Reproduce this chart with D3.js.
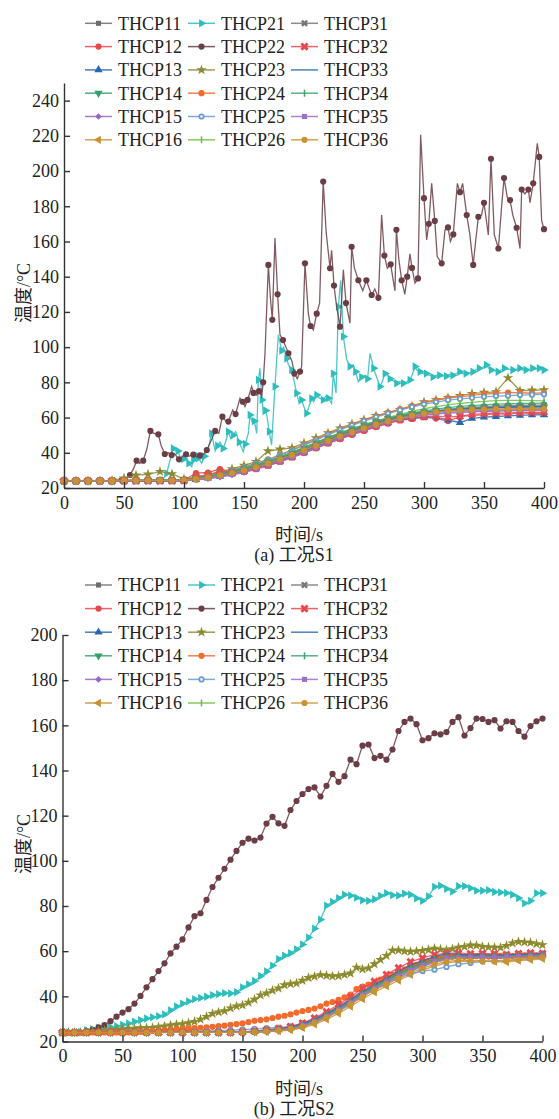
<!DOCTYPE html>
<html>
<head>
<meta charset="utf-8">
<script src="https://cdn.jsdelivr.net/npm/d3@7"></script>
<style>
  body { margin: 0; background: #fff; }
  text { font-family: "Liberation Serif", "Noto Sans CJK SC", serif; fill: #222; }
</style>
</head>
<body>
<div id="chart"></div>
<script>
// sample grids (s)
const grid10 = d3.range(0, 401, 10);
const grid5 = d3.range(0, 401, 5);

const seriesNames = ["THCP11", "THCP12", "THCP13", "THCP14", "THCP15", "THCP16",
  "THCP21", "THCP22", "THCP23", "THCP24", "THCP25", "THCP26",
  "THCP31", "THCP32", "THCP33", "THCP34", "THCP35", "THCP36"];
const seriesColors = ["#6d6d6d", "#e8474d", "#2867b2", "#33a06a", "#9467c6", "#c8902e",
  "#2ebdbd", "#6b3e45", "#8c8a2e", "#f26b2c", "#6a9bd1", "#6fbf3e",
  "#777777", "#ea4850", "#2a6bb8", "#3aa56e", "#9a70c9", "#c99232"];
const seriesMarkers = ["square", "circle", "triUp", "triDown", "diamond", "triLeft",
  "triRight", "circle", "star", "circle", "ring", "vbar",
  "x", "xbold", "none", "vbar", "square", "circle"];

// ---- 工况S1 ----
const s1_11 = [24,24,24,24,24,24.2,24.3,24.2,24.4,24.3,
  24.6,25.4,26.5,27.8,29.2,30.8,32.5,34.6,36.8,39.6,
  42,44.8,47.5,50.3,52.6,55,57.2,59,60.3,61.7,
  62.6,63.5,64.2,64.6,65.5,65.2,65.7,66.1,65.8,66.2,66];
const s1_12 = [24,24,24,24,24,24,24,24.2,24.1,24.3,
  24.5,28.5,28.8,30.8,29,29.5,31,32.8,35,37.5,
  40,42.6,45.3,47.8,50.2,52.4,54.6,56.6,58.4,59.2,
  60.2,59.4,58,60.5,61.2,61.5,62.3,61.8,62.7,62.2,62.5];
const s1_13 = [24,24,24,24,24,24,24,24,24,24,
  24.2,24.8,25.6,26.6,28,29.6,31.4,33.4,35.6,38,
  40.8,43.5,46.2,48.8,51.2,53.5,55.6,57.3,58.8,59.7,
  60.2,60.4,58.6,57.2,59.5,60.3,60.6,61,61.2,61.5,61.6];
const s1_14 = [24,24,24,24,24,24.3,24.5,24.4,24.6,24.4,
  24.8,25.6,26.8,28,29.5,31.2,33,35.2,37.5,40.2,
  43,45.8,48.6,51.3,53.6,55.8,57.8,59.5,61,62.3,
  63.2,63.8,64.3,64.8,65.3,65.6,65.8,66,66.2,66.3,66.1];
const s1_15 = [24,24,24,24,24,24,24,24,24,24,
  24,24.6,25.3,26.2,27.4,28.8,30.6,32.6,34.8,37.2,
  39.8,42.5,45.3,48,50.5,52.8,55,57,58.8,60.2,
  61.4,62,62.5,62.8,63.2,63.5,63.6,63.8,64,64.1,64.2];
const s1_16 = [24,24,24,24,24,24.2,24.2,24.3,24.3,24.2,
  24.5,25.2,26.2,27.4,28.7,30.4,32.2,34.3,36.6,39,
  41.6,44.3,47,49.6,52,54.3,56.4,58.2,59.8,61.2,
  62.3,63,63.6,64,64.3,64.6,64.8,65,65,65.2,65.3];
const s1_21_t = [0,5,10,15,20,25,30,35,40,45,50,55,60,65,70,75,80,
  82,85.6,88,91,93,95,98,100,102,104,106.4,108,110.6,112,114.7,117,120.3,123,126,128,
  130,132.6,135,137,139,141,143,146,149.4,151,153.6,155,157,158.6,160.6,162,163.3,165,166,168,
  169.4,171,173,175.8,178.6,181.4,183,185.6,187,189.7,192,193.9,196,198,200,202.2,204,206.4,208,210.6,
  213,216,218,220.3,223,224.4,226.7,228.6,230.6,232.8,235.6,238.3,241,243,245.3,248,251,253,255,258,
  260,263.3,265,267.5,270,271.7,274,277.2,280,282.8,285,288.3,290,292.5,294,296.7,299,302,305,307.5,
  310,313,316,318.6,321,324,327,329.7,332,335,338,340.7,343,346,349,352,354,356,359,361.7,
  364,367,370,374,377,379.7,382,385,388,390.5,393,396,398,400];
const s1_21_v = [24,24,24,24,24,24,24,24,24,24,24,24,24,24,24,24,24,
  24.5,28.3,35,42.5,41,41,35,36.5,36,34,32.1,36,39.7,37,34,38,42.5,51,41,44,
  46,42.5,47,52,48,50,52,46,40.6,45,51,61.5,57,58,51,81.4,88,70,62,64,
  60,52,44.4,77.6,107,98,100,93.5,90,87,80,73.8,68,70,66,62.4,66,70.9,69,72.8,
  71,70,72,71,68,85,74,123,138,106,93,89,90,86,80.4,83,84,82,96.5,88,
  84,77.6,80,85,84,82,81,79.5,80.5,79.5,80,81.4,84,89,87,86,85,85,84,83,
  84,84,83.5,83.5,84.5,84,85,86,85,85,85.5,86,87,88,88.5,89.9,88,87,86.5,86,
  87,88,87.5,87,87.5,88,87,87,87.5,88,87.5,88,87.5,87];
const s1_22_t = [0,5,10,15,20,25,30,35,40,45,48,51,55,58,60.5,63,66,69,72,75,
  78.6,81,84,87,89.7,92,95.8,99,101.7,104,107.8,110,113.3,116,119,122,126,129,132,135,
  137,140.5,143,146.7,149,150.8,153,156.4,158,160.6,162.5,164.7,166,167.5,170.3,172,173.6,175.8,178,180,
  182.5,185,187,190,192,194.4,196.7,198,200.8,203.6,205.5,207.8,210.6,213,216,218.5,221.7,223,225,227.2,
  230,232.8,235,238.3,239.7,242,245.3,249,252,254,256.4,259,262,264.7,267,269.4,272.2,275.8,277,279,
  281.4,284,286,288.3,290,292.5,295,297.2,300,302.2,304,306.4,309,311,314.7,317.5,320,322,324.4,327.8,
  330,332.2,335.6,338,341,343,345.3,348,350,353.6,355.8,358.6,362,364.7,366.7,369.4,371.7,374,377.2,380,
  381.4,384,387,388.3,391,394.4,396,398,400];
const s1_22_v = [24,24,24,24,24,24,24,24,24,24,24.5,25,27.4,31,35.5,34,35.5,42,52.4,51,
  50.5,44,39.3,40,38.7,39.5,36.3,38,39.1,38,39,37.5,38.5,39,41.6,46,52.4,51,60.5,58,
  57.7,64.3,62,71,69,66.2,70,77.6,74,72.8,75,71.9,80,96.5,146.7,128,115.5,161.9,130,107,
  104,100,96.5,92,85,82,86.1,88.9,147.6,119.2,112,109.8,119,125,194,165,144.8,155,135,123,
  111.6,143.9,125,113.6,157,145,138,132,138,134,129.6,133,128,175,152,144.8,147,132,166.6,150,
  138,130,140,153,145,136.4,139,220.6,184.6,160.9,170,193,171.7,151.4,147.6,166.6,168,160,164,193,
  188,193,175,165,146.7,160,174,175,182,163.7,207,163.7,156,180,196,185,183.5,175,167.8,156,
  189.5,187,189.5,182,193,215.8,208,172,167];
const s1_23 = [24,24,24,24,24.3,25.5,27.3,27.8,29.3,28,
  25.2,26.2,27.6,29,30.8,32.8,35,41,42,42.8,
  45.5,48.4,51.3,54,56.4,58.8,61,62.8,64.5,66.5,
  68.8,70,71.3,72.4,73.6,74.2,74.6,82.5,75.2,75.5,75.7];
const s1_24 = [24,24,24,24,24,24.3,24.5,24.5,24.6,24.5,
  24.8,25.8,27.2,28.6,30.2,32,34,36.3,38.8,41.6,
  44.6,47.6,50.6,53.4,56,58.4,60.8,62.8,64.8,66.6,
  68.4,69.8,71,71.8,72.6,73.3,73.8,74.2,74.1,73.8,74];
const s1_25 = [24,24,24,24,24,24.2,24.4,24.4,24.5,24.4,
  24.7,25.6,27,28.4,30,31.8,33.8,36,38.5,41.2,
  44.2,47.2,50.2,53,55.6,58,60.3,62.3,64.2,66,
  67.6,68.8,69.9,70.6,71.2,71.8,72.2,72.4,72.8,73,73.2];
const s1_26 = [24,24,24,24,24,24.2,24.3,24.3,24.4,24.3,
  24.6,25.4,26.7,28,29.6,31.3,33.2,35.3,37.6,40.2,
  43,45.8,48.6,51.2,53.6,55.9,58,60,61.8,63.5,
  65,66.2,67.2,68,68.6,69.2,69.6,69.8,69.8,69.6,69.5];
const s1_31 = [24,24,24,24,24,24,24.2,24.2,24.3,24.2,
  24.5,25.3,26.4,27.6,29,30.6,32.4,34.5,36.8,39.3,
  42,44.8,47.6,50.2,52.6,55,57.1,59,60.6,62,
  63.1,64,64.7,65.3,65.8,66.2,66.5,66.7,66.9,67,67.1];
const s1_32 = [24,24,24,24,24,24,24,24,24,24,
  24.2,26.3,27.5,29.5,28.6,29.6,31.2,33,35.2,37.6,
  40.3,43,45.7,48.3,50.8,53.1,55.3,57.2,58.8,59.8,
  60.5,61,60.2,60.8,61.8,62.2,62.6,62.5,62.9,63.1,63];
const s1_33 = [24,24,24,24,24,24,24.1,24.1,24.2,24.1,
  24.3,25,26,27.2,28.5,30.1,31.9,33.9,36.1,38.5,
  41.2,44,46.8,49.4,51.9,54.3,56.4,58.2,59.8,61.3,
  62.5,63.3,64,64.6,65,65.4,65.7,65.9,66,66.1,66.2];
const s1_34 = [24,24,24,24,24,24.2,24.3,24.3,24.4,24.3,
  24.6,25.5,26.6,27.9,29.4,31.1,33,35.1,37.4,40,
  42.8,45.6,48.4,51,53.4,55.7,57.8,59.6,61.2,62.6,
  63.8,64.8,65.6,66.3,66.8,67.2,67.6,67.8,68,68.1,68.2];
const s1_35 = [24,24,24,24,24,24,24,24,24,24,
  24.1,24.7,25.5,26.5,27.8,29.3,31.1,33.1,35.3,37.7,
  40.3,43,45.8,48.5,51,53.3,55.4,57.3,59,60.5,
  61.6,62.4,63,63.4,63.8,64,64.2,64.3,64.4,64.5,64.5];
const s1_36 = [24,24,24,24,24,24.1,24.2,24.2,24.2,24.2,
  24.4,25,26,27.2,28.5,30.1,31.9,34,36.3,38.8,
  41.4,44.1,46.8,49.4,51.8,54,56.1,58,59.7,61.2,
  62.4,63.2,63.8,64.2,64.5,64.7,64.8,64.8,64.9,64.9,65];

// ---- 工况S2 ----
const s2_11 = [24,24,24,24,24,24,24,24,24,24,24,24,24,24,24,
  24.2,24.4,24.8,25.3,26,27.4,29.3,31.8,34.6,37.8,41.2,44.2,47,49.8,52.3,
  54.4,56.2,57.4,57.8,57.6,57.9,57.7,58,58.2,58.1,58.3];
const s2_12 = [24,24,24,24,24,24,24,24,24,24,24,24,24,24,24,
  24.3,24.6,25,25.6,26.4,27.9,30,32.6,35.6,38.9,42.5,45.6,48.4,51.2,53.8,
  55.8,57.4,58.3,58.6,58.4,58.7,58.5,58.3,58.6,58.8,58.6];
const s2_13 = [24,24,24,24,24,24,24,24,24,24,24,24,24,24,24,
  24.2,24.4,24.7,25.2,25.9,27.2,29.2,31.8,34.6,37.8,41.3,44.4,47.2,50,52.6,
  54.6,56.6,57.8,58,57.6,57.8,57.6,57.8,58,58.2,58.4];
const s2_14 = [24,24,24,24,24,24,24,24,24,24,24,24,24,24,24,
  24.1,24.3,24.6,25,25.7,26.8,28.6,31,33.8,37,40.5,43.6,46.4,49.2,51.8,
  54,55.8,57,57.4,57.2,57.4,57.3,57.5,57.7,57.9,58];
const s2_15 = [24,24,24,24,24,24,24,24,24,24,24,24,24,24,24,
  24,24.2,24.4,24.8,25.4,26.5,28.2,30.6,33.4,36.6,40,43,45.8,48.5,51,
  53.2,55,56.4,57,57,57.2,57.1,57.3,57.4,57.6,57.8];
const s2_16 = [24,24,24,24,24,24,24,24,24,24,24,24,24,24,24,
  24,24.1,24.3,24.6,25.1,26,27.6,29.8,32.4,35.5,38.8,41.8,44.5,47,49.5,
  51.6,53.4,54.8,55.4,55.6,55.8,55.4,55.2,55.8,56.2,56.6];
const s2_21 = [24,24,24,24.2,25,25.5,26,26.2,26.4,26.8,
  27.4,28,28.8,29.5,30.2,30.7,31.2,32,33.8,35.5,
  36.8,37.8,38.8,39.3,39.8,40.5,41,41.4,41.3,41.8,
  44,45.3,46.8,49,51,53.6,56.5,58,59.1,60.8,
  63,66,70,74,80.2,81.8,83.5,85,84.6,83.7,
  82.5,82.3,83,84.5,85.7,84.8,84.6,85.5,85,83.4,
  82.3,84.3,88.5,89,87.6,86.4,88.8,88.8,87.9,86.8,
  86.8,87,86.2,86,85.8,85,83.5,81.2,82.3,85.7,85.7];
const s2_22 = [24,24,24,24,24.5,25.2,26.3,27.3,29,31,
  32.8,34.3,36.8,40.2,44,47.6,51.2,54.6,59,62,
  65.2,70.5,75.5,76.8,82.7,88.4,92.5,96.5,100.5,104.4,
  108,109.8,109,110.3,116.5,119.5,116.6,115.5,122.5,126.5,
  129.6,131.8,132.5,128.5,133.2,138.5,135,137.5,144.8,142.8,
  151,151.5,145.5,146.5,144.8,149.3,157.5,161.5,163,160.5,
  153.4,154.3,156.5,156,157,161.5,163.6,155.5,158.8,163,
  162.8,161.5,162.3,158.6,161.8,161.5,157.5,155,159.7,161.8,163];
const s2_23 = [24,24,24,24,24.2,24.4,24.6,24.8,25,25.2,
  25.5,25.7,25.8,26,26,26.1,26.4,26.8,27.2,27.5,
  27.8,28.2,28.8,29.8,31,32.3,33,33.5,34.8,35.6,
  36.1,37.3,38.6,40.5,41.4,42.6,43.6,45,45.5,45.8,
  47,48.2,48.8,49.5,49.2,48.9,49,49.6,50.2,52.8,
  52,52.5,54.3,56.2,58,60.3,60.4,60,59.8,60,
  60.2,60.6,61.2,60.8,60.5,61,61.7,62,62.6,62.5,
  62,61.8,61.6,61.6,62.4,63.5,64.2,64,63.8,63.2,62.8];
const s2_24 = [24,24,24,24,24,24,24,24,24,24,
  24,24,24.2,24.3,24.5,24.6,24.8,25,25.2,25.4,
  25.5,25.7,25.9,26.1,26.3,26.5,26.8,27,27.4,27.7,
  28,28.6,29.2,29.5,29.8,30.4,31,31.4,32,32.8,
  33.5,34,34.6,35.6,36.8,37.5,38.4,39.5,40.8,43.2,
  44.3,45.2,46.3,47.4,48.4,49.6,50.8,52,53,54,
  54.8,55.6,56.2,56.8,57.3,57.5,57.6,57.5,57.6,57.8,
  57.7,57.6,57.8,57.9,58,57.8,57.9,58.1,58.2,58.1,58.2];
const s2_25 = [24,24,24,24,24,24,24,24,24,24,
  24.2,24.4,24.6,24.8,25,25.3,25.6,25.9,26.2,26.6,
  27.4,28.8,31,33.6,36.6,40,43,45.6,48,50,
  51.2,51.8,53,54.2,54.8,55.4,55.8,56,56.4,56.8,57.2];
const s2_26 = [24,24,24,24,24,24,24,24,24,24,24,24,24,24,24,
  24.2,24.4,24.7,25.2,25.9,27.1,29,31.5,34.3,37.5,41,43.9,46.6,49.2,51.6,
  53.6,55.3,56.5,57,57.2,57.4,57.3,57.5,57.6,57.8,57.9];
const s2_31 = [24,24,24,24,24,24,24,24,24,24,24,24,24,24,24,
  24.2,24.5,24.9,25.4,26.1,27.5,29.4,32,34.9,38.1,41.5,44.5,47.3,50.1,52.6,
  54.7,56.4,57.6,58,58,58.2,58,58.3,58.4,58.5,58.6];
const s2_32 = [24,24,24,24,24,24,24,24,24,24,24,24,24,24,24,
  24.3,24.6,25.1,25.7,26.6,28.2,30.4,33.2,36.4,39.8,43.5,46.6,49.6,52.6,55.3,
  57,58.5,59,59.2,58.8,59,58.8,58.5,58.9,59.2,59];
const s2_33 = [24,24,24,24,24,24,24,24,24,24,24,24,24,24,24,
  24.2,24.5,24.9,25.5,26.3,27.8,29.8,32.4,35.3,38.5,42,45.1,48,51,53.8,
  55.7,57.6,59,58.6,58.2,58.4,58,58.3,58.5,58.7,58.8];
const s2_34 = [24,24,24,24,24,24,24,24,24,24,24,24,24,24,24,
  24.2,24.4,24.8,25.3,26,27.3,29.2,31.7,34.5,37.7,41.2,44.3,47.1,49.9,52.4,
  54.5,56.3,57.5,57.8,57.6,57.8,57.7,57.9,58,58.2,58.3];
const s2_35 = [24,24,24,24,24,24,24,24,24,24,24,24,24,24,24,
  24.1,24.3,24.6,25.1,25.8,27,28.8,31.2,34,37.2,40.6,43.6,46.4,49,51.5,
  53.6,55.4,56.7,57.2,57.3,57.4,57.3,57.5,57.6,57.8,58];
const s2_36 = [24,24,24,24,24,24,24,24,24,24,24,24,24,24,24,
  24.1,24.2,24.5,24.9,25.5,26.6,28.3,30.6,33.3,36.4,39.8,42.8,45.4,48,50.4,
  52.4,54.2,55.4,56,55.8,55.6,55.4,55.8,56.2,56.8,57.2];

const xTicks = d3.range(0, 401, 50);
const yTicksS1 = d3.range(20, 241, 20);
const yTicksS2 = d3.range(20, 201, 20);

// [times, values, marker stride] in legend order
const panelS1 = [
  [grid10, s1_11, 1], [grid10, s1_12, 1], [grid10, s1_13, 1], [grid10, s1_14, 1], [grid10, s1_15, 1], [grid10, s1_16, 1],
  [s1_21_t, s1_21_v, 2], [s1_22_t, s1_22_v, 2], [grid10, s1_23, 1], [grid10, s1_24, 1], [grid10, s1_25, 1], [grid10, s1_26, 1],
  [grid10, s1_31, 1], [grid10, s1_32, 1], [grid10, s1_33, 1], [grid10, s1_34, 1], [grid10, s1_35, 1], [grid10, s1_36, 1]
];
const panelS2 = [
  [grid10, s2_11, 1], [grid10, s2_12, 1], [grid10, s2_13, 1], [grid10, s2_14, 1], [grid10, s2_15, 1], [grid10, s2_16, 1],
  [grid5, s2_21, 1], [grid5, s2_22, 1], [grid5, s2_23, 1], [grid5, s2_24, 1], [grid10, s2_25, 1], [grid10, s2_26, 1],
  [grid10, s2_31, 1], [grid10, s2_32, 1], [grid10, s2_33, 1], [grid10, s2_34, 1], [grid10, s2_35, 1], [grid10, s2_36, 1]
];

const svg = d3.select("#chart").append("svg")
  .attr("width", 559)
  .attr("height", 1119);

function markerStyle(kind) {
  switch (kind) {
    case "square": return { d: d3.symbol(d3.symbolSquare, 26)(), r: 0 };
    case "circle": return { d: d3.symbol(d3.symbolCircle, 30)(), r: 0 };
    case "triUp": return { d: d3.symbol(d3.symbolTriangle, 30)(), r: 0 };
    case "triDown": return { d: d3.symbol(d3.symbolTriangle, 30)(), r: 180 };
    case "triLeft": return { d: d3.symbol(d3.symbolTriangle, 30)(), r: -90 };
    case "triRight": return { d: d3.symbol(d3.symbolTriangle, 30)(), r: 90 };
    case "diamond": return { d: d3.symbol(d3.symbolSquare, 22)(), r: 45 };
    case "star": return { d: d3.symbol(d3.symbolStar, 34)(), r: 0 };
    case "ring": return { d: d3.symbol(d3.symbolCircle, 30)(), r: 0, dot: true };
    case "vbar": return { d: "M0,-3.5V3.5", r: 0, stroke: true };
    case "x": return { d: d3.symbol(d3.symbolCross, 30)(), r: 45 };
    case "xbold": return { d: d3.symbol(d3.symbolCross, 42)(), r: 45 };
    default: return null;
  }
}

function drawMarkers(g, pts, kind, color) {
  const m = markerStyle(kind);
  if (!m) return;
  g.selectAll(null)
    .data(pts)
    .enter().append("path")
    .attr("d", m.d)
    .attr("transform", d => `translate(${d[0]},${d[1]}) rotate(${m.r})`)
    .attr("fill", m.stroke ? "none" : color)
    .attr("stroke", m.stroke ? color : "none")
    .attr("stroke-width", 1.5);
  if (m.dot) {
    // white centre of the THCP25 marker
    g.selectAll(null)
      .data(pts)
      .enter().append("circle")
      .attr("cx", d => d[0])
      .attr("cy", d => d[1])
      .attr("r", 1.3)
      .attr("fill", "#fff");
  }
}

function drawPanel(cfg) {
  const x = d3.scaleLinear().domain([0, 400]).range([cfg.left, cfg.left + 480]);
  const y = d3.scaleLinear().domain(cfg.yDomain).range([cfg.bottom, cfg.top]);
  const g = svg.append("g");

  // lines + markers
  cfg.data.forEach((s, i) => {
    const [ts, vs, stride] = s;
    const pts = ts.map((t, k) => [x(t), y(vs[k])]);
    const sg = g.append("g");
    sg.append("path")
      .attr("d", d3.line()(pts))
      .attr("fill", "none")
      .attr("stroke", seriesColors[i])
      .attr("stroke-opacity", 0.85)
      .attr("stroke-width", 1.3);
    drawMarkers(sg, pts.filter((p, k) => k % stride === 0), seriesMarkers[i], seriesColors[i]);
  });

  // axes, ticks pointing inward
  const xAxis = g.append("g")
    .attr("transform", `translate(0,${cfg.bottom})`)
    .call(d3.axisBottom(x).tickValues(xTicks).tickSizeInner(-6).tickSizeOuter(0).tickPadding(8));
  const yAxis = g.append("g")
    .attr("transform", `translate(${cfg.left},0)`)
    .call(d3.axisLeft(y).tickValues(cfg.yTicks).tickSizeInner(-6).tickSizeOuter(0).tickPadding(5));
  [xAxis, yAxis].forEach(a => {
    a.selectAll("path, line").attr("stroke", "#333").attr("stroke-width", 1.4);
    a.selectAll("text")
      .attr("font-family", "Liberation Serif")
      .attr("font-size", 18)
      .attr("fill", "#222");
  });

  // legend
  seriesNames.forEach((name, i) => {
    const col = Math.floor(i / 6), row = i % 6;
    const lx = 85 + col * 103;
    const ly = cfg.legendTop + row * cfg.legendStep;
    const lg = g.append("g");
    lg.append("line")
      .attr("x1", lx).attr("x2", lx + 27)
      .attr("y1", ly).attr("y2", ly)
      .attr("stroke", seriesColors[i])
      .attr("stroke-opacity", 0.85)
      .attr("stroke-width", 1.5);
    drawMarkers(lg, [[lx + 13.5, ly]], seriesMarkers[i], seriesColors[i]);
    lg.append("text")
      .attr("x", lx + 33)
      .attr("y", ly)
      .attr("dy", "0.35em")
      .attr("font-size", 18)
      .text(name);
  });

  // titles
  g.append("text")
    .attr("transform", `translate(24,${cfg.yTitleY}) rotate(-90)`)
    .attr("text-anchor", "middle")
    .attr("dy", "0.35em")
    .attr("font-size", 18)
    .text("温度/°C");
  g.append("text")
    .attr("x", 299)
    .attr("y", cfg.bottom + 47)
    .attr("text-anchor", "middle")
    .attr("dy", "0.35em")
    .attr("font-size", 18)
    .text("时间/s");
  g.append("text")
    .attr("x", 294)
    .attr("y", cfg.bottom + 67)
    .attr("text-anchor", "middle")
    .attr("dy", "0.35em")
    .attr("font-size", 18)
    .text(cfg.caption);
}

drawPanel({
  data: panelS1, left: 64, top: 83, bottom: 488, yDomain: [20, 250], yTicks: yTicksS1,
  legendTop: 23.3, legendStep: 23.3, yTitleY: 293, caption: "(a) 工况S1"
});
drawPanel({
  data: panelS2, left: 62.5, top: 635, bottom: 1041.5, yDomain: [20, 200], yTicks: yTicksS2,
  legendTop: 585, legendStep: 23.6, yTitleY: 844, caption: "(b) 工况S2"
});
</script>
</body>
</html>
